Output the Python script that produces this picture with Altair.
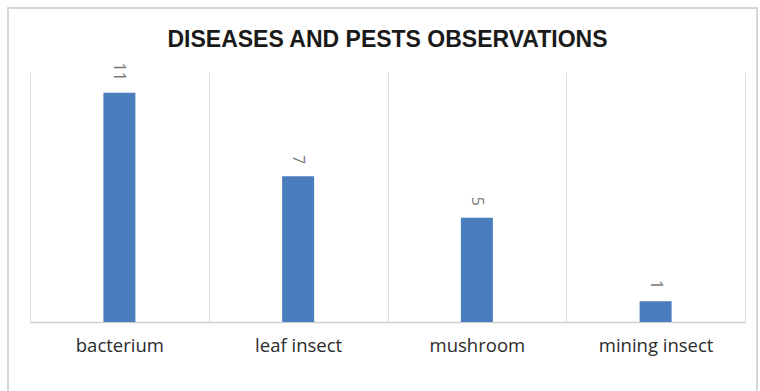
import altair as alt
import pandas as pd

categories = ["bacterium", "leaf insect", "mushroom", "mining insect"]
counts = [11, 7, 5, 1]
title_text = "DISEASES AND PESTS OBSERVATIONS"

df = pd.DataFrame({"category": categories, "count": counts})

W, H = 715, 250

x_enc = alt.X(
    "category:N",
    sort=categories,
    scale=alt.Scale(paddingInner=0, paddingOuter=0),
    axis=alt.Axis(
        title=None,
        labelAngle=0,
        labelFont="Open Sans",
        labelFontSize=18.5,
        labelColor="#2b2b2b",
        labelPadding=14,
        ticks=False,
        domainColor="#d0d0d0",
        domainWidth=1.5,
        grid=True,
        gridColor="#dcdcdc",
        gridWidth=1,
        tickBand="extent",
    ),
)
y_enc = alt.Y(
    "count:Q",
    scale=alt.Scale(domain=[0, 12], nice=False),
    axis=None,
)

bars = alt.Chart(df).mark_bar(color="#4a7dbe", size=32).encode(x=x_enc, y=y_enc)

# value labels, rotated to read top-to-bottom, ending just above each bar
labels = alt.Chart(df).mark_text(
    angle=90,
    align="right",
    baseline="middle",
    dx=-12,
    font="Open Sans",
    fontSize=16,
    color="#7a7a7a",
).encode(
    x=alt.X("category:N", sort=categories),
    y=alt.Y("count:Q", axis=None),
    text="count:Q",
)

# chart heading, centred over the plot
heading = alt.Chart(pd.DataFrame({"t": [title_text]})).mark_text(
    font="Liberation Sans",
    fontSize=23,
    fontWeight="bold",
    color="#1a1a1a",
    align="center",
    baseline="middle",
).encode(x=alt.value(W / 2), y=alt.value(-32), text="t:N")

# light frame around the whole figure
frame = alt.Chart(pd.DataFrame({"t": [0]})).mark_rect(
    fill=None, stroke="#d6d6d6", strokeWidth=2
).encode(
    x=alt.value(-22), x2=alt.value(727), y=alt.value(-64), y2=alt.value(340)
)

chart = (
    alt.layer(frame, bars, labels, heading)
    .properties(
        width=W,
        height=H,
        background="white",
        autosize=alt.AutoSizeParams(type="none"),
        padding={"left": 30, "top": 72, "right": 15, "bottom": 69},
    )
    .configure_view(strokeWidth=0, stroke="transparent")
)

chart.save("out.html", embed_options={"renderer": "svg", "actions": False})
